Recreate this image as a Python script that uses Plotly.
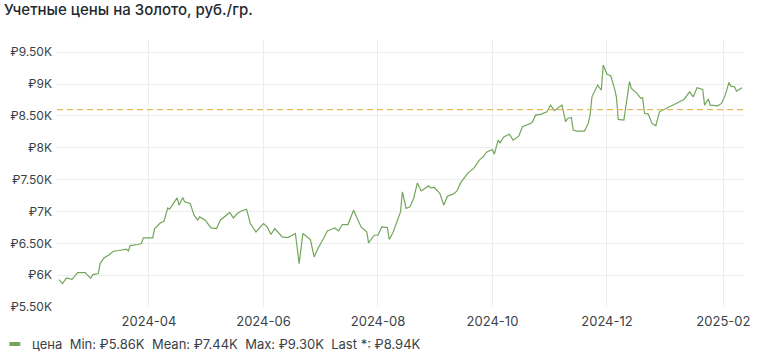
import plotly.graph_objects as go

dates = [
    "2024-02-13", "2024-02-15", "2024-02-17", "2024-02-20", "2024-02-23", "2024-02-27", "2024-02-28",
    "2024-03-01", "2024-03-02", "2024-03-05", "2024-03-06", "2024-03-08", "2024-03-11", "2024-03-13",
    "2024-03-16", "2024-03-20", "2024-03-21", "2024-03-22", "2024-03-26", "2024-03-28", "2024-03-29",
    "2024-04-03", "2024-04-04", "2024-04-07", "2024-04-09", "2024-04-11", "2024-04-12", "2024-04-16",
    "2024-04-17", "2024-04-19", "2024-04-20", "2024-04-23", "2024-04-25", "2024-04-27", "2024-04-28",
    "2024-05-01", "2024-05-04", "2024-05-07", "2024-05-09", "2024-05-14", "2024-05-16", "2024-05-18",
    "2024-05-20", "2024-05-23", "2024-05-25", "2024-05-28", "2024-06-01", "2024-06-03", "2024-06-05",
    "2024-06-07", "2024-06-11", "2024-06-14", "2024-06-18", "2024-06-20", "2024-06-22", "2024-06-25",
    "2024-06-26", "2024-06-28", "2024-06-30", "2024-07-03", "2024-07-05", "2024-07-07", "2024-07-09",
    "2024-07-11", "2024-07-13", "2024-07-16", "2024-07-19", "2024-07-23", "2024-07-26", "2024-07-27",
    "2024-07-30", "2024-08-01", "2024-08-03", "2024-08-06", "2024-08-07", "2024-08-09", "2024-08-11",
    "2024-08-13", "2024-08-14", "2024-08-16", "2024-08-18", "2024-08-20", "2024-08-22", "2024-08-24",
    "2024-08-28", "2024-08-29", "2024-08-31", "2024-09-03", "2024-09-05", "2024-09-07", "2024-09-10",
    "2024-09-12", "2024-09-14", "2024-09-18", "2024-09-21", "2024-09-24", "2024-09-26", "2024-09-28",
    "2024-10-01", "2024-10-02", "2024-10-04", "2024-10-05", "2024-10-07", "2024-10-10", "2024-10-12",
    "2024-10-15", "2024-10-17", "2024-10-19", "2024-10-22", "2024-10-24", "2024-10-27", "2024-10-30",
    "2024-11-01", "2024-11-03", "2024-11-07", "2024-11-09", "2024-11-10", "2024-11-12", "2024-11-13",
    "2024-11-15", "2024-11-19", "2024-11-21", "2024-11-22", "2024-11-23", "2024-11-26", "2024-11-28",
    "2024-11-29", "2024-12-01", "2024-12-03", "2024-12-05", "2024-12-06", "2024-12-07", "2024-12-10",
    "2024-12-13", "2024-12-14", "2024-12-17", "2024-12-19", "2024-12-20", "2024-12-21", "2024-12-23",
    "2024-12-25", "2024-12-27", "2024-12-29", "2025-01-11", "2025-01-14", "2025-01-16", "2025-01-18",
    "2025-01-21", "2025-01-22", "2025-01-24", "2025-01-25", "2025-01-29", "2025-01-31", "2025-02-02",
    "2025-02-04", "2025-02-05", "2025-02-07", "2025-02-08", "2025-02-11",
]

prices = [
    5931, 5868, 5956, 5935, 6041, 6041, 6009,
    5951, 6009, 6025, 6182, 6270, 6324, 6376,
    6387, 6407, 6380, 6465, 6481, 6497, 6585,
    6585, 6732, 6820, 6847, 7056, 7036, 7213,
    7099, 7220, 7151, 7125, 6942, 6863, 6915,
    6863, 6742, 6732, 6863, 6984, 6899, 6968,
    7004, 7036, 6811, 6679, 6811, 6758, 6638,
    6732, 6600, 6591, 6654, 6182, 6654, 6585,
    6560, 6286, 6418, 6575, 6695, 6717, 6742,
    6695, 6795, 6795, 7020, 6758, 6679, 6506,
    6627, 6627, 6758, 6748, 6560, 6670, 6827,
    6993, 7308, 7047, 7072, 7204, 7449, 7323,
    7402, 7371, 7377, 7283, 7099, 7240, 7272,
    7319, 7449, 7606, 7676, 7806, 7858, 7936,
    7974, 7900, 8120, 8078, 8172, 8214, 8120,
    8183, 8330, 8356, 8392, 8513, 8529, 8565,
    8671, 8582, 8671, 8408, 8461, 8477, 8278,
    8262, 8262, 8383, 8513, 8801, 8985, 8907,
    9300, 9154, 9132, 8934, 8801, 8446, 8435,
    9038, 8934, 8855, 8777, 8786, 8541, 8529,
    8383, 8346, 8565, 8760, 8880, 8801, 8943,
    8918, 8671, 8766, 8671, 8660, 8697, 8827,
    9027, 8969, 8958, 8890, 8943,
]

threshold = 8600

y_tick_vals = [5500, 6000, 6500, 7000, 7500, 8000, 8500, 9000, 9500]
y_tick_text = ["₽5.50K", "₽6K", "₽6.50K", "₽7K", "₽7.50K", "₽8K", "₽8.50K", "₽9K", "₽9.50K"]
x_tick_vals = ["2024-04-01", "2024-06-01", "2024-08-01", "2024-10-01", "2024-12-01", "2025-02-01"]
x_tick_text = ["2024-04", "2024-06", "2024-08", "2024-10", "2024-12", "2025-02"]

title_text = "Учетные цены на Золото, руб./гр."
legend_text = "цена  Min: ₽5.86K  Mean: ₽7.44K  Max: ₽9.30K  Last *: ₽8.94K"

GREEN = "#73a65c"
FONT = "Inter, 'Noto Sans', sans-serif"
TXT = "#3a3f46"

fig = go.Figure()
fig.add_trace(go.Scatter(
    x=dates, y=prices, mode="lines",
    line=dict(color=GREEN, width=1.2),
    name="цена", showlegend=False,
))

fig.add_shape(type="line", xref="paper", yref="y", x0=0, x1=1, y0=threshold, y1=threshold,
              line=dict(color="#e2b95c", width=1.2, dash="6px,4px"), layer="above")

# legend marker + text
LY = (307 - 344) / 267
fig.add_shape(type="line", xref="paper", yref="paper",
              x0=(9 - 57) / 693, x1=(20 - 57) / 693, y0=LY, y1=LY,
              line=dict(color=GREEN, width=4))
fig.add_annotation(xref="paper", yref="paper", x=(30 - 57) / 693, y=LY,
                   xanchor="left", yanchor="middle", showarrow=False,
                   text=legend_text, font=dict(family=FONT, size=13, color=TXT))

fig.update_layout(
    width=758, height=357,
    margin=dict(l=57, r=8, t=40, b=50),
    paper_bgcolor="white", plot_bgcolor="white",
    font=dict(family=FONT, size=12, color=TXT),
    title=dict(text=title_text, xref="container", yref="container",
               x=4 / 758, y=1 - 10 / 357, xanchor="left", yanchor="middle",
               font=dict(family=FONT, size=15, color="#24292e", weight=500)),
    xaxis=dict(range=["2024-02-12", "2025-02-12"], tickvals=x_tick_vals, ticktext=x_tick_text,
               showgrid=True, gridcolor="#ededed", gridwidth=1, zeroline=False, showline=False,
               ticks="", ticklabelstandoff=5, tickfont=dict(size=13, color=TXT)),
    yaxis=dict(range=[5500, 9693], tickvals=y_tick_vals, ticktext=y_tick_text,
               showgrid=True, gridcolor="#ededed", gridwidth=1, zeroline=False, showline=False,
               ticks="", ticklabelstandoff=4, tickfont=dict(size=12, color=TXT)),
)

fig.write_html("out.html", config={"displayModeBar": False},
               post_script="document.body.style.margin='0';")
